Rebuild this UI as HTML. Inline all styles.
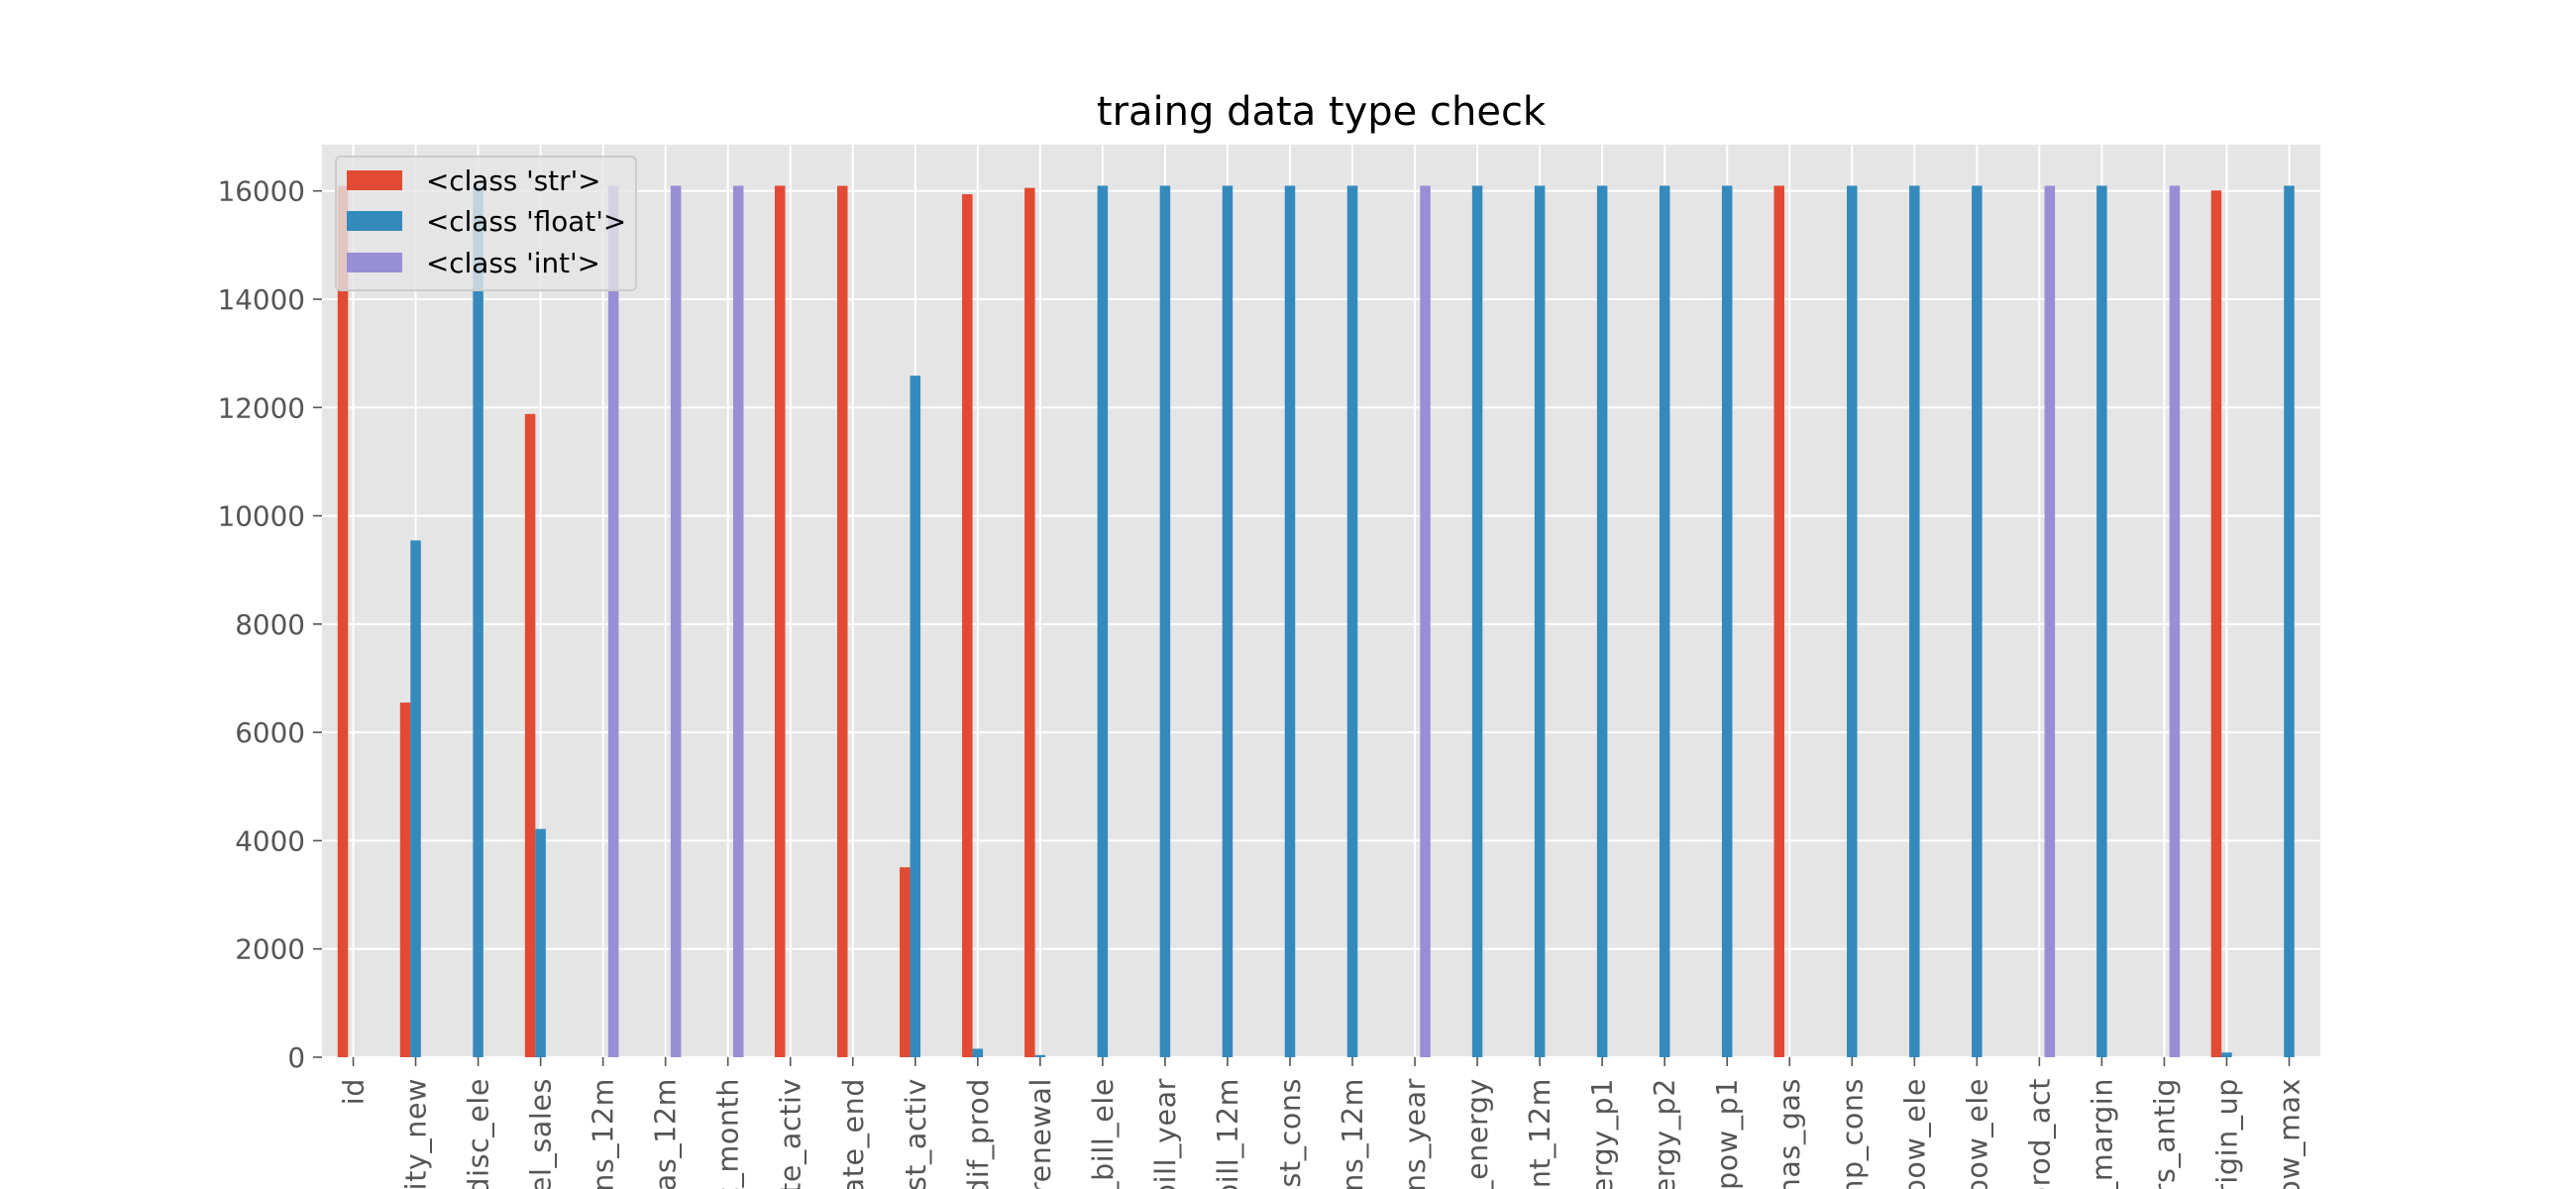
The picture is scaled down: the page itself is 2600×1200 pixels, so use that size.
<!DOCTYPE html>
<html><head><meta charset="utf-8"><style>
html,body{margin:0;padding:0;background:#fff;width:2600px;height:1200px;overflow:hidden;}
svg{display:block;overflow:hidden;font-family:"DejaVu Sans","Liberation Sans",sans-serif;}
</style></head><body>
<svg id="chart" width="2600" height="1200" viewBox="0 0 2600 1200" xmlns="http://www.w3.org/2000/svg">
<rect x="0" y="0" width="2600" height="1200" fill="#fff"/>
<text x="1333.5" y="126" font-size="40" text-anchor="middle" fill="#000">traing data type check</text>
<rect id="plotbg" x="325" y="146" width="2017" height="921" fill="#e5e5e5"/>
<g id="grid"></g>
<g id="bars"></g>
<g id="axes"></g>
<g id="legend">
<rect x="339" y="158" width="303" height="135" rx="5" fill="#e5e5e5" fill-opacity="0.8" stroke="#cccccc" stroke-width="2"/>
<rect x="350" y="172" width="56" height="20" fill="#E24A33"/>
<text x="430" y="192" font-size="27.8" fill="#000">&lt;class 'str'&gt;</text>
<rect x="350" y="213" width="56" height="20" fill="#348ABD"/>
<text x="430" y="233" font-size="27.8" fill="#000">&lt;class 'float'&gt;</text>
<rect x="350" y="255" width="56" height="20" fill="#988ED5"/>
<text x="430" y="275" font-size="27.8" fill="#000">&lt;class 'int'&gt;</text>
</g>
</svg>
<script>
const categories=["id","activity_new","campaign_disc_ele","channel_sales","cons_12m","cons_gas_12m","cons_last_month","date_activ","date_end","date_first_activ","date_modif_prod","date_renewal","forecast_base_bill_ele","forecast_base_bill_year","forecast_bill_12m","forecast_cons","forecast_cons_12m","forecast_cons_year","forecast_discount_energy","forecast_meter_rent_12m","forecast_price_energy_p1","forecast_price_energy_p2","forecast_price_pow_p1","has_gas","imp_cons","margin_gross_pow_ele","margin_net_pow_ele","nb_prod_act","net_margin","num_years_antig","origin_up","pow_max"];
const strVals=[16096,6550,0,11880,0,0,0,16096,16094,3508,15939,16056,0,0,0,0,0,0,0,0,0,0,0,16096,0,0,0,0,0,0,16009,0];
const floatVals=[0,9545,16096,4216,0,0,0,0,0,12588,157,40,16096,16096,16096,16096,16096,0,16096,16096,16096,16096,16096,0,16096,16096,16096,0,16096,0,87,16096];
const intVals=[0,0,0,0,16096,16096,16096,0,0,0,0,0,0,0,0,0,0,16096,0,0,0,0,0,0,0,0,0,16096,0,16096,0,0];
const yTicks=[0,2000,4000,6000,8000,10000,12000,14000,16000];
const NS="http://www.w3.org/2000/svg";
const L=325,R=2342,T=146,B=1067;
const step=(R-L)/categories.length;
function xc(i){return L+step*(i+0.5);}
function y(v){return B-v*(874.3/16000);}
const grid=document.getElementById('grid'),bars=document.getElementById('bars'),axes=document.getElementById('axes');
function mk(tag,attrs,parent){const e=document.createElementNS(NS,tag);for(const k in attrs)e.setAttribute(k,attrs[k]);parent.appendChild(e);return e;}
yTicks.forEach(v=>{
  const g=mk('line',{x1:L,x2:R,y1:y(v),y2:y(v),stroke:'#fff','stroke-width':2},grid);
  
  
  const t=mk('line',{x1:L-9,x2:L,y1:y(v),y2:y(v),stroke:'#555','stroke-width':1.6},axes);
  
  
  const lb=mk('text',{x:L-17,y:y(v)+10,'font-size':27.8,'text-anchor':'end',fill:'#555'},axes);
  lb.textContent=v;
  
  
});
categories.forEach((c,i)=>{
  const g=mk('line',{x1:xc(i),x2:xc(i),y1:T,y2:B,stroke:'#fff','stroke-width':2},grid);
  
  
  const t=mk('line',{x1:xc(i),x2:xc(i),y1:B,y2:B+9,stroke:'#555','stroke-width':1.6},axes);
  
  
  const lb=mk('text',{x:0,y:0,'font-size':28.5,'letter-spacing':0.6,'text-anchor':'end',fill:'#555',transform:`translate(${xc(i)+10},${B+21}) rotate(-90)`},axes);
  lb.textContent=c;
  
  
});
const bw=step*0.5/3;
const series=[[strVals,'#E24A33','str'],[floatVals,'#348ABD','float'],[intVals,'#988ED5','int']];
series.forEach(([vals,col,nm],s)=>{
  vals.forEach((v,i)=>{
    if(v<=0)return;
    const x=xc(i)+(s-1)*bw-bw/2;
    const r=mk('rect',{x:x,y:y(v),width:bw,height:B-y(v),fill:col},bars);
    
    
  });
});
</script>
</body></html>
